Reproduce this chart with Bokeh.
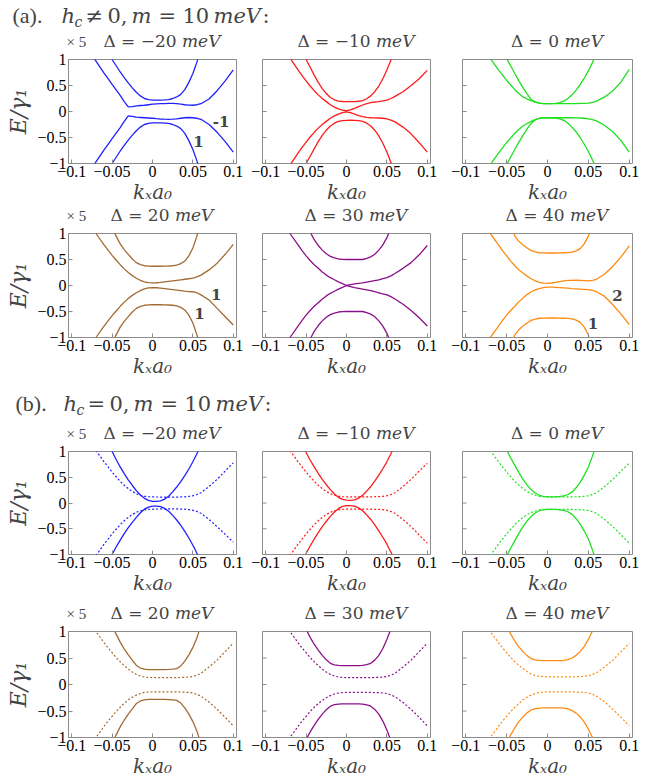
from bokeh.plotting import figure
from bokeh.models import Range1d, Label, FixedTicker
from bokeh.layouts import column, row
from bokeh.embed import file_html
from bokeh.resources import INLINE

# ---------------- data ----------------
kx = [-0.1, -0.09, -0.08, -0.07,
      -0.06, -0.055, -0.05, -0.045, -0.04, -0.035, -0.03, -0.025, -0.02, -0.015, -0.01, -0.005,
      0.0, 0.005, 0.01, 0.015, 0.02, 0.025, 0.03, 0.035, 0.04, 0.045, 0.05, 0.055, 0.06,
      0.07, 0.08, 0.09, 0.1]

deltas = [-20, -10, 0, 20, 30, 40]
colors = ["#2020ff", "#ff1a1a", "#1ee01e", "#a36a33", "#8a108a", "#ff8a14"]

x_ticks = [-0.1, -0.05, 0, 0.05, 0.1]
x_tick_labels = ["\u22120.1", "\u22120.05", "0", "0.05", "0.1"]
y_ticks = [-1, -0.5, 0, 0.5, 1]
y_tick_labels = ["\u22121", "\u22120.5", "0", "0.5", "1"]

# (a) h_c != 0 : four bands per panel (E / gamma_1, x5)
a_dm20 = [
    [2.4, 2.05, 1.75, 1.5, 1.25, 1.12, 1.0, 0.88, 0.76, 0.65, 0.55, 0.455, 0.37, 0.30, 0.25, 0.23, 0.22, 0.22, 0.22, 0.222, 0.23, 0.25, 0.28, 0.33, 0.42, 0.56, 0.73, 0.95, 1.2, 1.6, 2.1, 2.6, 3.1],
    [1.75, 1.45, 1.2, 0.97, 0.74, 0.63, 0.52, 0.415, 0.31, 0.19, 0.09, 0.095, 0.11, 0.115, 0.12, 0.13, 0.14, 0.145, 0.15, 0.153, 0.155, 0.155, 0.15, 0.14, 0.13, 0.122, 0.12, 0.13, 0.15, 0.24, 0.40, 0.59, 0.80],
    [-1.75, -1.45, -1.2, -0.97, -0.74, -0.63, -0.52, -0.415, -0.31, -0.19, -0.085, -0.095, -0.11, -0.115, -0.12, -0.125, -0.13, -0.138, -0.145, -0.148, -0.15, -0.147, -0.14, -0.13, -0.12, -0.115, -0.12, -0.13, -0.15, -0.25, -0.40, -0.58, -0.78],
    [-2.4, -2.05, -1.75, -1.5, -1.25, -1.12, -1.0, -0.88, -0.76, -0.65, -0.55, -0.455, -0.37, -0.30, -0.25, -0.23, -0.22, -0.22, -0.22, -0.222, -0.23, -0.25, -0.28, -0.33, -0.42, -0.56, -0.73, -0.95, -1.2, -1.6, -2.1, -2.6, -3.1],
]
a_dm10 = [
    [2.6, 2.2, 1.85, 1.55, 1.27, 1.13, 1.0, 0.85, 0.70, 0.56, 0.44, 0.345, 0.27, 0.225, 0.20, 0.192, 0.19, 0.19, 0.19, 0.197, 0.21, 0.245, 0.30, 0.38, 0.49, 0.63, 0.80, 0.99, 1.2, 1.65, 2.1, 2.6, 3.1],
    [1.9, 1.6, 1.3, 1.03, 0.80, 0.69, 0.59, 0.49, 0.40, 0.32, 0.25, 0.19, 0.13, 0.085, 0.05, 0.025, 0.015, 0.03, 0.06, 0.095, 0.125, 0.152, 0.17, 0.183, 0.19, 0.203, 0.22, 0.25, 0.29, 0.38, 0.50, 0.63, 0.79],
    [-1.9, -1.6, -1.3, -1.03, -0.80, -0.69, -0.59, -0.49, -0.40, -0.32, -0.25, -0.19, -0.13, -0.085, -0.05, -0.02, -0.005, -0.022, -0.05, -0.078, -0.10, -0.113, -0.12, -0.123, -0.125, -0.13, -0.14, -0.165, -0.20, -0.30, -0.43, -0.60, -0.78],
    [-2.6, -2.2, -1.85, -1.55, -1.27, -1.13, -1.0, -0.86, -0.72, -0.58, -0.46, -0.36, -0.28, -0.225, -0.19, -0.175, -0.17, -0.168, -0.17, -0.177, -0.19, -0.225, -0.28, -0.36, -0.47, -0.61, -0.78, -0.98, -1.2, -1.65, -2.1, -2.6, -3.1],
]
a_d0 = [
    [2.6, 2.2, 1.85, 1.55, 1.28, 1.15, 1.02, 0.875, 0.73, 0.59, 0.46, 0.34, 0.23, 0.18, 0.16, 0.152, 0.15, 0.15, 0.155, 0.17, 0.2, 0.25, 0.32, 0.41, 0.52, 0.64, 0.78, 0.94, 1.12, 1.55, 2.0, 2.5, 3.0],
    [1.9, 1.6, 1.3, 1.02, 0.80, 0.70, 0.60, 0.51, 0.42, 0.345, 0.28, 0.24, 0.21, 0.18, 0.16, 0.152, 0.15, 0.15, 0.15, 0.15, 0.15, 0.15, 0.15, 0.152, 0.155, 0.157, 0.16, 0.175, 0.2, 0.28, 0.40, 0.57, 0.81],
    [-1.9, -1.6, -1.3, -1.02, -0.80, -0.70, -0.60, -0.51, -0.42, -0.345, -0.28, -0.23, -0.19, -0.155, -0.13, -0.122, -0.12, -0.12, -0.12, -0.12, -0.12, -0.12, -0.12, -0.122, -0.125, -0.13, -0.14, -0.155, -0.18, -0.27, -0.39, -0.56, -0.78],
    [-2.6, -2.2, -1.85, -1.55, -1.28, -1.15, -1.02, -0.875, -0.73, -0.59, -0.46, -0.335, -0.23, -0.16, -0.13, -0.122, -0.12, -0.12, -0.125, -0.14, -0.17, -0.225, -0.30, -0.39, -0.50, -0.63, -0.77, -0.93, -1.12, -1.55, -2.0, -2.5, -3.0],
]
a_d20 = [
    [2.8, 2.4, 2.0, 1.7, 1.4, 1.25, 1.1, 0.95, 0.80, 0.69, 0.60, 0.51, 0.44, 0.40, 0.38, 0.372, 0.37, 0.37, 0.37, 0.372, 0.375, 0.38, 0.39, 0.42, 0.47, 0.57, 0.72, 0.95, 1.25, 1.7, 2.2, 2.7, 3.2],
    [1.85, 1.55, 1.27, 1.0, 0.78, 0.68, 0.58, 0.49, 0.40, 0.32, 0.25, 0.19, 0.14, 0.10, 0.07, 0.055, 0.05, 0.053, 0.06, 0.07, 0.08, 0.09, 0.10, 0.11, 0.12, 0.13, 0.14, 0.165, 0.20, 0.30, 0.43, 0.60, 0.79],
    [-1.85, -1.55, -1.27, -1.0, -0.78, -0.68, -0.58, -0.49, -0.40, -0.32, -0.25, -0.19, -0.14, -0.10, -0.065, -0.047, -0.04, -0.043, -0.05, -0.06, -0.07, -0.08, -0.09, -0.10, -0.11, -0.117, -0.12, -0.14, -0.18, -0.28, -0.44, -0.60, -0.76],
    [-2.8, -2.4, -2.0, -1.7, -1.4, -1.25, -1.1, -0.95, -0.80, -0.69, -0.60, -0.51, -0.44, -0.40, -0.38, -0.372, -0.37, -0.37, -0.37, -0.372, -0.375, -0.38, -0.39, -0.42, -0.47, -0.57, -0.72, -0.95, -1.25, -1.7, -2.2, -2.7, -3.2],
]
a_d30 = [
    [3.0, 2.6, 2.2, 1.85, 1.5, 1.35, 1.2, 1.03, 0.88, 0.77, 0.68, 0.61, 0.56, 0.53, 0.51, 0.502, 0.5, 0.5, 0.5, 0.5, 0.5, 0.52, 0.55, 0.6, 0.68, 0.78, 0.92, 1.1, 1.35, 1.8, 2.3, 2.8, 3.3],
    [1.85, 1.55, 1.27, 1.0, 0.78, 0.67, 0.57, 0.48, 0.40, 0.33, 0.26, 0.20, 0.15, 0.11, 0.07, 0.035, 0.0, 0.015, 0.03, 0.04, 0.05, 0.065, 0.08, 0.095, 0.11, 0.13, 0.15, 0.185, 0.23, 0.33, 0.44, 0.59, 0.77],
    [-1.85, -1.55, -1.27, -1.0, -0.78, -0.67, -0.57, -0.48, -0.40, -0.33, -0.26, -0.20, -0.15, -0.11, -0.07, -0.035, 0.0, -0.02, -0.04, -0.055, -0.07, -0.085, -0.10, -0.12, -0.14, -0.16, -0.18, -0.215, -0.26, -0.36, -0.48, -0.62, -0.78],
    [-3.0, -2.6, -2.2, -1.85, -1.5, -1.35, -1.2, -1.03, -0.88, -0.77, -0.68, -0.61, -0.56, -0.53, -0.51, -0.502, -0.5, -0.5, -0.5, -0.5, -0.5, -0.52, -0.55, -0.6, -0.68, -0.78, -0.92, -1.1, -1.35, -1.8, -2.3, -2.8, -3.3],
]
a_d40 = [
    [3.2, 2.8, 2.4, 2.0, 1.65, 1.47, 1.3, 1.12, 0.95, 0.85, 0.78, 0.72, 0.67, 0.645, 0.63, 0.627, 0.625, 0.625, 0.625, 0.627, 0.63, 0.633, 0.64, 0.665, 0.71, 0.80, 0.95, 1.17, 1.45, 2.0, 2.5, 3.0, 3.5],
    [1.85, 1.55, 1.27, 1.0, 0.78, 0.67, 0.57, 0.47, 0.38, 0.30, 0.24, 0.18, 0.13, 0.09, 0.06, 0.045, 0.04, 0.048, 0.06, 0.075, 0.09, 0.097, 0.10, 0.102, 0.10, 0.095, 0.09, 0.1, 0.12, 0.22, 0.37, 0.55, 0.76],
    [-1.85, -1.55, -1.27, -1.0, -0.78, -0.67, -0.57, -0.48, -0.40, -0.31, -0.24, -0.175, -0.12, -0.085, -0.06, -0.04, -0.03, -0.03, -0.035, -0.04, -0.045, -0.052, -0.06, -0.065, -0.07, -0.075, -0.08, -0.095, -0.12, -0.21, -0.37, -0.55, -0.75],
    [-3.2, -2.8, -2.4, -2.0, -1.65, -1.47, -1.3, -1.12, -0.95, -0.85, -0.78, -0.72, -0.67, -0.645, -0.63, -0.627, -0.625, -0.625, -0.625, -0.627, -0.63, -0.633, -0.64, -0.665, -0.71, -0.80, -0.95, -1.17, -1.45, -2.0, -2.5, -3.0, -3.5],
]

# (b) h_c = 0 : two solid bands, then two dotted bands per panel
b_dm20 = [
    [3.2, 2.7, 2.2, 1.75, 1.36, 1.17, 1.0, 0.845, 0.70, 0.57, 0.45, 0.34, 0.24, 0.155, 0.09, 0.05, 0.03, 0.03, 0.04, 0.075, 0.13, 0.215, 0.31, 0.415, 0.53, 0.66, 0.80, 0.955, 1.12, 1.5, 1.95, 2.45, 3.0],
    [-3.2, -2.7, -2.2, -1.75, -1.36, -1.17, -1.0, -0.855, -0.72, -0.595, -0.48, -0.375, -0.28, -0.19, -0.12, -0.08, -0.06, -0.06, -0.07, -0.105, -0.16, -0.24, -0.33, -0.435, -0.55, -0.68, -0.82, -0.975, -1.14, -1.5, -1.95, -2.45, -3.0],
    [2.0, 1.65, 1.3, 1.02, 0.80, 0.70, 0.60, 0.51, 0.42, 0.345, 0.28, 0.225, 0.18, 0.15, 0.13, 0.123, 0.12, 0.117, 0.115, 0.115, 0.115, 0.115, 0.115, 0.117, 0.12, 0.128, 0.14, 0.165, 0.20, 0.32, 0.46, 0.62, 0.78],
    [-2.0, -1.65, -1.3, -1.02, -0.80, -0.70, -0.60, -0.51, -0.42, -0.345, -0.28, -0.225, -0.18, -0.15, -0.13, -0.123, -0.12, -0.117, -0.115, -0.115, -0.115, -0.115, -0.115, -0.117, -0.12, -0.128, -0.14, -0.165, -0.20, -0.32, -0.46, -0.61, -0.76],
]
b_dm10 = [
    [3.2, 2.7, 2.2, 1.75, 1.34, 1.15, 0.98, 0.835, 0.70, 0.575, 0.46, 0.355, 0.26, 0.175, 0.11, 0.07, 0.055, 0.052, 0.06, 0.095, 0.15, 0.23, 0.32, 0.425, 0.54, 0.665, 0.80, 0.955, 1.12, 1.5, 1.95, 2.45, 3.0],
    [-3.2, -2.7, -2.2, -1.75, -1.34, -1.15, -0.98, -0.835, -0.70, -0.575, -0.46, -0.355, -0.26, -0.175, -0.11, -0.065, -0.05, -0.05, -0.06, -0.095, -0.15, -0.23, -0.32, -0.425, -0.54, -0.665, -0.80, -0.955, -1.12, -1.5, -1.95, -2.45, -3.0],
    [2.0, 1.65, 1.3, 1.02, 0.80, 0.70, 0.60, 0.51, 0.42, 0.345, 0.28, 0.225, 0.18, 0.15, 0.13, 0.123, 0.12, 0.12, 0.12, 0.12, 0.12, 0.12, 0.12, 0.122, 0.125, 0.13, 0.14, 0.165, 0.20, 0.32, 0.46, 0.62, 0.77],
    [-2.0, -1.65, -1.3, -1.02, -0.80, -0.70, -0.60, -0.51, -0.42, -0.345, -0.28, -0.225, -0.18, -0.15, -0.13, -0.123, -0.12, -0.12, -0.12, -0.12, -0.12, -0.12, -0.12, -0.122, -0.125, -0.13, -0.14, -0.165, -0.20, -0.32, -0.46, -0.62, -0.78],
]
b_d0 = [
    [3.2, 2.7, 2.2, 1.78, 1.38, 1.2, 1.03, 0.875, 0.73, 0.59, 0.46, 0.35, 0.26, 0.195, 0.15, 0.128, 0.12, 0.12, 0.12, 0.127, 0.14, 0.165, 0.21, 0.295, 0.40, 0.54, 0.70, 0.91, 1.15, 1.6, 2.1, 2.6, 3.1],
    [-3.2, -2.7, -2.2, -1.78, -1.38, -1.2, -1.03, -0.875, -0.73, -0.59, -0.46, -0.35, -0.26, -0.195, -0.15, -0.13, -0.125, -0.125, -0.125, -0.132, -0.145, -0.17, -0.22, -0.305, -0.41, -0.545, -0.70, -0.91, -1.15, -1.6, -2.1, -2.6, -3.1],
    [2.0, 1.65, 1.3, 1.02, 0.80, 0.70, 0.60, 0.51, 0.42, 0.345, 0.28, 0.225, 0.18, 0.15, 0.13, 0.123, 0.12, 0.12, 0.12, 0.12, 0.12, 0.12, 0.12, 0.122, 0.125, 0.13, 0.14, 0.165, 0.20, 0.32, 0.46, 0.62, 0.77],
    [-2.0, -1.65, -1.3, -1.02, -0.80, -0.70, -0.60, -0.51, -0.42, -0.345, -0.28, -0.23, -0.185, -0.155, -0.135, -0.128, -0.125, -0.125, -0.125, -0.125, -0.125, -0.125, -0.125, -0.127, -0.13, -0.137, -0.145, -0.17, -0.20, -0.32, -0.46, -0.62, -0.78],
]
b_d20 = [
    [3.6, 3.1, 2.6, 2.0, 1.45, 1.27, 1.1, 0.95, 0.80, 0.67, 0.56, 0.46, 0.36, 0.31, 0.29, 0.282, 0.28, 0.28, 0.28, 0.282, 0.285, 0.29, 0.30, 0.35, 0.44, 0.56, 0.70, 0.88, 1.12, 1.65, 2.1, 2.6, 3.1],
    [-3.6, -3.1, -2.6, -2.0, -1.45, -1.27, -1.1, -0.95, -0.80, -0.67, -0.56, -0.46, -0.36, -0.31, -0.29, -0.282, -0.28, -0.28, -0.28, -0.282, -0.285, -0.29, -0.30, -0.35, -0.44, -0.56, -0.70, -0.88, -1.12, -1.65, -2.1, -2.6, -3.1],
    [2.0, 1.65, 1.3, 1.0, 0.79, 0.69, 0.60, 0.51, 0.43, 0.355, 0.29, 0.235, 0.19, 0.16, 0.14, 0.133, 0.13, 0.13, 0.13, 0.13, 0.13, 0.13, 0.13, 0.132, 0.135, 0.14, 0.15, 0.175, 0.21, 0.33, 0.46, 0.62, 0.78],
    [-2.0, -1.65, -1.3, -1.0, -0.79, -0.69, -0.60, -0.51, -0.43, -0.355, -0.29, -0.24, -0.20, -0.17, -0.15, -0.143, -0.14, -0.14, -0.14, -0.14, -0.14, -0.14, -0.14, -0.142, -0.145, -0.15, -0.16, -0.185, -0.22, -0.33, -0.47, -0.62, -0.78],
]
b_d30 = [
    [3.6, 3.1, 2.6, 2.1, 1.5, 1.25, 1.04, 0.89, 0.76, 0.65, 0.55, 0.465, 0.40, 0.37, 0.36, 0.356, 0.355, 0.355, 0.355, 0.357, 0.36, 0.375, 0.40, 0.46, 0.55, 0.68, 0.85, 1.05, 1.3, 1.8, 2.3, 2.8, 3.3],
    [-3.6, -3.1, -2.6, -2.1, -1.5, -1.25, -1.04, -0.895, -0.77, -0.66, -0.56, -0.475, -0.41, -0.38, -0.37, -0.366, -0.365, -0.365, -0.365, -0.367, -0.37, -0.385, -0.41, -0.47, -0.56, -0.69, -0.86, -1.06, -1.3, -1.8, -2.3, -2.8, -3.3],
    [2.0, 1.65, 1.3, 1.0, 0.79, 0.69, 0.60, 0.51, 0.43, 0.355, 0.29, 0.235, 0.19, 0.16, 0.14, 0.133, 0.13, 0.13, 0.13, 0.13, 0.13, 0.13, 0.13, 0.132, 0.135, 0.14, 0.15, 0.175, 0.21, 0.33, 0.46, 0.62, 0.78],
    [-2.0, -1.65, -1.3, -1.0, -0.79, -0.69, -0.60, -0.51, -0.43, -0.36, -0.30, -0.25, -0.21, -0.18, -0.16, -0.153, -0.15, -0.15, -0.15, -0.15, -0.15, -0.15, -0.15, -0.152, -0.155, -0.16, -0.17, -0.195, -0.23, -0.34, -0.47, -0.62, -0.78],
]
b_d40 = [
    [3.8, 3.3, 2.8, 2.2, 1.55, 1.3, 1.1, 0.95, 0.82, 0.71, 0.62, 0.545, 0.49, 0.465, 0.455, 0.451, 0.45, 0.45, 0.45, 0.451, 0.455, 0.47, 0.50, 0.55, 0.62, 0.72, 0.85, 1.01, 1.2, 1.7, 2.2, 2.7, 3.2],
    [-3.8, -3.3, -2.8, -2.2, -1.55, -1.3, -1.1, -0.95, -0.82, -0.70, -0.61, -0.535, -0.48, -0.455, -0.445, -0.441, -0.44, -0.44, -0.44, -0.441, -0.445, -0.46, -0.49, -0.54, -0.61, -0.71, -0.84, -1.0, -1.2, -1.7, -2.2, -2.7, -3.2],
    [2.0, 1.65, 1.3, 1.0, 0.79, 0.69, 0.60, 0.51, 0.43, 0.36, 0.30, 0.245, 0.20, 0.17, 0.155, 0.148, 0.145, 0.145, 0.145, 0.145, 0.145, 0.145, 0.145, 0.147, 0.15, 0.155, 0.165, 0.19, 0.22, 0.33, 0.46, 0.62, 0.78],
    [-2.0, -1.65, -1.3, -1.0, -0.79, -0.69, -0.60, -0.51, -0.43, -0.355, -0.29, -0.24, -0.20, -0.17, -0.15, -0.143, -0.14, -0.14, -0.14, -0.14, -0.14, -0.14, -0.14, -0.142, -0.145, -0.15, -0.16, -0.185, -0.22, -0.33, -0.47, -0.62, -0.78],
]

# band index labels (text, kx, E) for the (a) panels
labels_dm20 = [("-1", 0.085, -0.20), ("1", 0.057, -0.57)]
labels_d20 = [("1", 0.079, -0.175), ("1", 0.058, -0.545)]
labels_d40 = [("2", 0.0855, -0.20), ("1", 0.0555, -0.73)]

# ---------------- layout constants ----------------
COL_W = [246, 200, 217]
COL_L = [68, 16, 16]
COL_R = [10, 16, 31]
FRAME_CX = [152, 346, 547]          # frame centres across the page (px)
PANEL_TOP = 9
PANEL_H = [156, 156, 155, 161]
PANEL_B = [40, 39, 40, 46]
X_LO, X_HI = -0.104, 0.104

FRAME_C = "#8c8c8c"
SERIF = "Liberation Serif"
MATH = "DejaVu Serif"
TITLE_SIZE = 17
TITLE_Y = 10
X5_Y = 9
CHAR_W = {"\u0394": 0.77, " ": 0.318, "=": 0.838, "\u2212": 0.838}


def text_width(s, size):
    return sum(CHAR_W.get(ch, 0.636) for ch in s) * size


def make_panel(ci, ri, bands, color, dotted, labels):
    p = figure(width=COL_W[ci], height=PANEL_H[ri], title=None,
               x_range=Range1d(X_LO, X_HI), y_range=Range1d(-1, 1),
               output_backend="svg", toolbar_location=None,
               y_axis_location="left" if ci == 0 else None,
               min_border_left=COL_L[ci], min_border_right=COL_R[ci],
               min_border_top=PANEL_TOP, min_border_bottom=PANEL_B[ri])
    p.grid.visible = False
    p.outline_line_color = FRAME_C
    p.outline_line_width = 1
    p.background_fill_color = "white"
    p.border_fill_color = "white"

    axes = [p.xaxis[0]] + ([p.yaxis[0]] if ci == 0 else [])
    for ax in axes:
        ax.axis_line_color = None
        ax.major_tick_in = 4
        ax.major_tick_out = 0
        ax.minor_tick_line_color = None
        ax.major_tick_line_color = FRAME_C
        ax.major_label_text_font = SERIF
        ax.major_label_text_font_size = "16px"
        ax.major_label_text_color = "black"
        ax.major_label_standoff = 2

    p.xaxis.ticker = FixedTicker(ticks=x_ticks)
    p.xaxis.major_label_overrides = {t: l for t, l in zip(x_ticks, x_tick_labels)}
    p.xaxis.axis_label = "k\u2093a\u2080"
    p.xaxis.axis_label_text_font = MATH
    p.xaxis.axis_label_text_font_style = "italic"
    p.xaxis.axis_label_text_font_size = "20px"
    p.xaxis.axis_label_standoff = 0

    if ci == 0:
        p.yaxis.ticker = FixedTicker(ticks=y_ticks)
        p.yaxis.major_label_overrides = {t: l for t, l in zip(y_ticks, y_tick_labels)}
        p.yaxis.axis_label = "E/\u03b3\u2081"
        p.yaxis.axis_label_text_font = MATH
        p.yaxis.axis_label_text_font_style = "italic"
        p.yaxis.axis_label_text_font_size = "22px"
        p.yaxis.axis_label_standoff = 3
    else:
        # unlabeled inward y ticks on the frame edge
        p.segment(x0=[X_LO] * len(y_ticks), y0=y_ticks,
                  x1=[X_LO + 0.005] * len(y_ticks), y1=y_ticks,
                  line_color=FRAME_C, line_width=1)

    for i, band in enumerate(bands):
        if dotted and i >= 2:
            p.line(kx, band, line_color=color, line_width=1.2, line_dash="2 2")
        else:
            p.line(kx, band, line_color=color, line_width=1.3)

    for (t, lx, ly) in labels:
        p.add_layout(Label(x=lx, y=ly, text=t, text_font=MATH, text_font_style="bold",
                           text_font_size="15px", text_align="center",
                           text_baseline="middle"))
    return p


def make_strip(h, row_deltas, header=None, y_header=None):
    """A full-width text strip: optional part header, then the three panel titles."""
    p = figure(width=663, height=h, x_range=Range1d(0, 663), y_range=Range1d(0, h),
               output_backend="svg", toolbar_location=None, title=None,
               x_axis_location=None, y_axis_location=None, min_border=0)
    p.grid.visible = False
    p.outline_line_color = None
    if header:
        for (t, x, dy, f, s, st) in header:
            p.add_layout(Label(x=x, y=y_header + dy, text=t, text_font=f, text_font_size=s,
                               text_font_style=st, text_baseline="middle", text_align="left"))
    for ci, d in enumerate(row_deltas):
        left = "\u0394 = " + str(d).replace("-", "\u2212")
        lw = text_width(left, TITLE_SIZE)
        mw = 2.26 * TITLE_SIZE
        gap = 0.318 * TITLE_SIZE
        joint = FRAME_CX[ci] + 9 + (lw + gap + mw) / 2 - mw
        p.add_layout(Label(x=joint - gap, y=TITLE_Y, text=left, text_font=MATH,
                           text_font_size=f"{TITLE_SIZE}px", text_align="right",
                           text_baseline="middle"))
        p.add_layout(Label(x=joint, y=TITLE_Y, text="meV", text_font=MATH,
                           text_font_style="italic", text_font_size=f"{TITLE_SIZE}px",
                           text_align="left", text_baseline="middle"))
    p.add_layout(Label(x=66, y=X5_Y, text="\u00d7 5", text_font=SERIF, text_font_size="15px",
                       text_align="left", text_baseline="middle"))
    return p


head_a_parts = [
    ("(a).", 12, 0, SERIF, "22px", "normal"),
    ("h", 61, 0, MATH, "21px", "italic"),
    ("c", 74, -6, MATH, "14px", "italic"),
    ("\u2260", 85, 0, MATH, "21px", "normal"),
    ("0,", 107, 0, MATH, "21px", "normal"),
    ("m", 131, 0, MATH, "21px", "italic"),
    ("=", 158, 0, MATH, "21px", "normal"),
    ("10", 182, 0, MATH, "21px", "normal"),
    ("meV", 213, 0, MATH, "21px", "italic"),
    (":", 262, 0, MATH, "21px", "normal"),
]
head_b_parts = [
    ("(b).", 15, 0, SERIF, "22px", "normal"),
    ("h", 63, 0, MATH, "21px", "italic"),
    ("c", 76, -6, MATH, "14px", "italic"),
    ("=", 87, 0, MATH, "21px", "normal"),
    ("0,", 109, 0, MATH, "21px", "normal"),
    ("m", 133, 0, MATH, "21px", "italic"),
    ("=", 160, 0, MATH, "21px", "normal"),
    ("10", 184, 0, MATH, "21px", "normal"),
    ("meV", 215, 0, MATH, "21px", "italic"),
    (":", 264, 0, MATH, "21px", "normal"),
]

a_sets = [a_dm20, a_dm10, a_d0, a_d20, a_d30, a_d40]
b_sets = [b_dm20, b_dm10, b_d0, b_d20, b_d30, b_d40]
a_labels = [labels_dm20, [], [], labels_d20, [], labels_d40]


def panel_row(ri, sets, dotted, lbls, offset):
    return row([make_panel(c, ri, sets[offset + c], colors[offset + c], dotted,
                           lbls[offset + c] if lbls else []) for c in range(3)])


strip1 = make_strip(50, deltas[0:3], head_a_parts, 35)
strip2 = make_strip(18, deltas[3:6])
strip3 = make_strip(62, deltas[0:3], head_b_parts, 39)
strip4 = make_strip(25, deltas[3:6])

layout = column([
    strip1, panel_row(0, a_sets, False, a_labels, 0),
    strip2, panel_row(1, a_sets, False, a_labels, 3),
    strip3, panel_row(2, b_sets, True, None, 0),
    strip4, panel_row(3, b_sets, True, None, 3),
])

open("out.html", "w").write(file_html(layout, INLINE))
